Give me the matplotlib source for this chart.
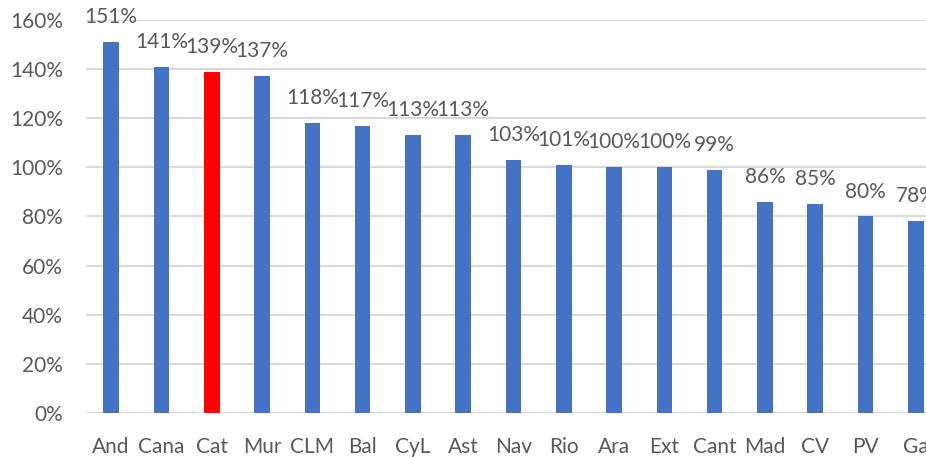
import matplotlib
matplotlib.use("Agg")
import matplotlib.pyplot as plt
from matplotlib.ticker import FuncFormatter

# regions and their ratio (%)
regions = ["And", "Cana", "Cat", "Mur", "CLM", "Bal", "CyL", "Ast", "Nav",
           "Rio", "Ara", "Ext", "Cant", "Mad", "CV", "PV", "Ga"]
values = [151, 141, 139, 137, 118, 117, 113, 113, 103,
          101, 100, 100, 99, 86, 85, 80, 78]
highlight = "Cat"
y_ticks = [0, 20, 40, 60, 80, 100, 120, 140, 160]

BLUE = "#4472C4"
RED = "#FF0000"
GREY_TEXT = "#595959"
GRID = "#D9D9D9"

plt.rcParams["font.family"] = ["Lato", "DejaVu Sans"]

fig = plt.figure(figsize=(9.26, 4.57), dpi=100)
# axes runs a bit past the right edge, the original picture is cropped there
ax = fig.add_axes([86 / 926, 44 / 457, 855 / 926, 393 / 457])

colors = [RED if r == highlight else BLUE for r in regions]
x = range(len(regions))
ax.bar(x, values, width=0.31, color=colors, zorder=3)

for i, v in enumerate(values):
    ax.annotate(f"{v}%", (i, v), xytext=(0, 18), textcoords="offset points",
                ha="center", va="center", fontsize=15, color=GREY_TEXT)

ax.set_xlim(-0.5, len(regions) - 0.5)
ax.set_ylim(0, 160)
ax.set_yticks(y_ticks)
ax.yaxis.set_major_formatter(FuncFormatter(lambda v, _: f"{v:.0f}%"))
ax.set_xticks(list(x))
ax.set_xticklabels(regions)
ax.tick_params(axis="y", length=0, pad=16.5, labelsize=15, labelcolor=GREY_TEXT)
ax.tick_params(axis="x", length=0, pad=17.5, labelsize=15, labelcolor=GREY_TEXT)
ax.grid(axis="y", color=GRID, linewidth=1.5, zorder=0)
for s in ax.spines.values():
    s.set_visible(False)

fig.savefig("out.png", dpi=100)
